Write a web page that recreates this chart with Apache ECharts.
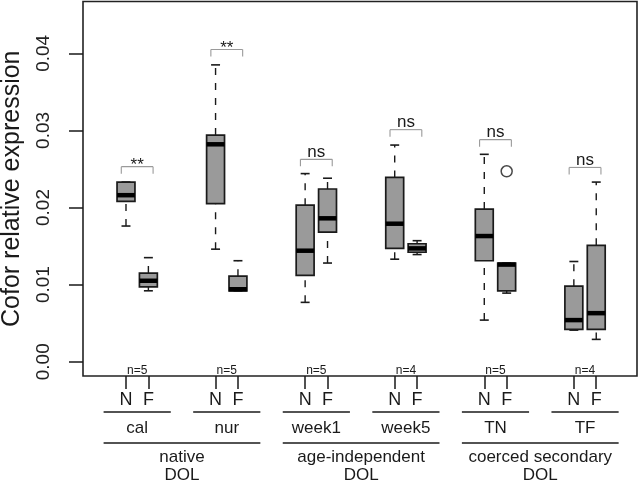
<!DOCTYPE html>
<html><head><meta charset="utf-8">
<script src="https://cdn.jsdelivr.net/npm/echarts@6/dist/echarts.min.js"></script>
<style>html,body{margin:0;padding:0;background:#fff}#c{width:639px;height:483px}</style>
</head><body><div id="c"></div>
<script>
// ---- data ----
const groups = ['cal', 'nur', 'week1', 'week5', 'TN', 'TF'];
const subLabels = ['N', 'F'];
const nLabels = ['n=5', 'n=5', 'n=5', 'n=4', 'n=5', 'n=4'];
const superGroups = ['native\nDOL', 'age-independent\nDOL', 'coerced secondary\nDOL'];
const superMembers = [[0, 1], [2, 3], [4, 5]];
// [min, q1, median, q3, max]
const statsN = [
  [0.0176, 0.0208, 0.0216, 0.0233, 0.0233],
  [0.0146, 0.0205, 0.0282, 0.0294, 0.0385],
  [0.0077, 0.0112, 0.0144, 0.0203, 0.0244],
  [0.0133, 0.0147, 0.0179, 0.0239, 0.0281],
  [0.0054, 0.0131, 0.0163, 0.0198, 0.0269],
  [0.0041, 0.0042, 0.0054, 0.0098, 0.0130]
];
const statsF = [
  [0.0092, 0.0097, 0.0105, 0.0115, 0.0135],
  [0.0092, 0.0092, 0.0094, 0.0111, 0.0131],
  [0.0128, 0.0168, 0.0186, 0.0224, 0.0238],
  [0.0139, 0.0142, 0.0147, 0.0153, 0.0157],
  [0.0089, 0.0092, 0.0126, 0.0128, 0.0128],
  [0.0029, 0.0042, 0.0063, 0.0151, 0.0233]
];
const outlierGroup = [4];
const outlierSub = [1];
const outlierValue = [0.0247];
const sigLabels = ['**', '**', 'ns', 'ns', 'ns', 'ns'];
const sigHeights = [0.0253, 0.0405, 0.02625, 0.0301, 0.0288, 0.0252];
const yTicks = [0, 0.01, 0.02, 0.03, 0.04];
const yTitle = 'Cofor relative expression';

// ---- layout ----
const X_MIN = -0.92, X_MAX = 23.82, Y_MIN = -0.00185, Y_MAX = 0.04672;
const FONT = '"Liberation Sans", Arial, Helvetica, sans-serif';
const INK = '#1a1a1a';
const posN = groups.map((g, i) => 1 + 4 * i);
const posF = groups.map((g, i) => 2 + 4 * i);
const tickPos = [], tickText = {};
groups.forEach((g, i) => { tickPos.push(posN[i], posF[i]); tickText[posN[i]] = subLabels[0]; tickText[posF[i]] = subLabels[1]; });

const boxData = [];
groups.forEach((g, i) => {
  boxData.push([posN[i]].concat(statsN[i]));
  boxData.push([posF[i]].concat(statsF[i]));
});
const outData = outlierGroup.map((g, k) => [(outlierSub[k] ? posF[g] : posN[g]), outlierValue[k]]);

function renderBox(params, api) {
  const p = api.value(0);
  const lo = api.coord([p, api.value(1)]);
  const q1 = api.coord([p, api.value(2)]);
  const md = api.coord([p, api.value(3)]);
  const q3 = api.coord([p, api.value(4)]);
  const hi = api.coord([p, api.value(5)]);
  const w = api.size([0.8, 0])[0];
  const sw = w * 0.5;
  const x = lo[0];
  const dash = { stroke: INK, lineWidth: 1.4, lineDash: [7, 8] };
  const solid = { stroke: INK, lineWidth: 1.6 };
  return {
    type: 'group', children: [
      { type: 'line', shape: { x1: x, y1: lo[1], x2: x, y2: q1[1] }, style: dash },
      { type: 'line', shape: { x1: x, y1: q3[1], x2: x, y2: hi[1] }, style: dash },
      { type: 'line', shape: { x1: x - sw / 2, y1: lo[1], x2: x + sw / 2, y2: lo[1] }, style: solid },
      { type: 'line', shape: { x1: x - sw / 2, y1: hi[1], x2: x + sw / 2, y2: hi[1] }, style: solid },
      { type: 'rect', shape: { x: x - w / 2, y: q3[1], width: w, height: q1[1] - q3[1] }, style: { fill: '#9a9a9a', stroke: INK, lineWidth: 1.7 } },
      { type: 'line', shape: { x1: x - w / 2, y1: md[1], x2: x + w / 2, y2: md[1] }, style: { stroke: '#000', lineWidth: 4.5 } }
    ]
  };
}

function renderSig(params, api) {
  const i = params.dataIndex;
  const a = api.coord([api.value(0) - 0.21, api.value(2)]);
  const b = api.coord([api.value(1) + 0.21, api.value(2)]);
  const y = a[1];
  const st = { stroke: '#9a9a9a', lineWidth: 1.1 };
  const lab = sigLabels[i];
  const dy = lab === '**' ? 7.5 : 1;
  return {
    type: 'group', children: [
      { type: 'line', shape: { x1: a[0], y1: y, x2: b[0], y2: y }, style: st },
      { type: 'line', shape: { x1: a[0], y1: y, x2: a[0], y2: y + 7 }, style: st },
      { type: 'line', shape: { x1: b[0], y1: y, x2: b[0], y2: y + 7 }, style: st },
      { type: 'text', x: (a[0] + b[0]) / 2, y: y + dy, style: { text: lab, fill: INK, font: '17px ' + FONT, align: 'center', verticalAlign: 'bottom' } }
    ]
  };
}

function renderGroupLabels(params, api) {
  const i = params.dataIndex;
  const a = api.coord([api.value(0), Y_MIN]);
  const b = api.coord([api.value(1), Y_MIN]);
  const l = api.coord([api.value(0) - 1, Y_MIN]);
  const r = api.coord([api.value(1) + 1, Y_MIN]);
  const base = a[1];
  const cx = (a[0] + b[0]) / 2;
  return {
    type: 'group', children: [
      { type: 'text', x: cx, y: base + 0.5, style: { text: nLabels[i], fill: INK, font: '12px ' + FONT, align: 'center', verticalAlign: 'bottom' } },
      { type: 'line', shape: { x1: l[0], y1: base + 36, x2: r[0], y2: base + 36 }, style: { stroke: INK, lineWidth: 1.5 } },
      { type: 'text', x: cx, y: base + 52, style: { text: groups[i], fill: INK, font: '17px ' + FONT, align: 'center', verticalAlign: 'middle' } }
    ]
  };
}

function renderSuper(params, api) {
  const i = params.dataIndex;
  const l = api.coord([api.value(0) - 1, Y_MIN]);
  const r = api.coord([api.value(1) + 1, Y_MIN]);
  const base = l[1];
  const cx = (l[0] + r[0]) / 2;
  const lines = superGroups[i].split('\n');
  const kids = [{ type: 'line', shape: { x1: l[0], y1: base + 67, x2: r[0], y2: base + 67 }, style: { stroke: INK, lineWidth: 1.5 } }];
  lines.forEach((t, k) => kids.push({ type: 'text', x: cx, y: base + 81 + 18.5 * k, style: { text: t, fill: INK, font: '17px ' + FONT, align: 'center', verticalAlign: 'middle' } }));
  return { type: 'group', children: kids };
}

const chart = echarts.init(document.getElementById('c'), null, { renderer: 'canvas' });
chart.setOption({
  animation: false,
  backgroundColor: '#fff',
  textStyle: { fontFamily: FONT },
  grid: { left: 83, right: 2, top: 1.5, bottom: 107, containLabel: false, outerBoundsMode: 'none', show: true, borderColor: '#222', borderWidth: 1.6, backgroundColor: 'transparent' },
  xAxis: {
    type: 'value', min: X_MIN, max: X_MAX,
    splitLine: { show: false }, axisLine: { show: false, onZero: false },
    axisTick: { show: true, inside: false, length: 13, customValues: tickPos, lineStyle: { color: INK, width: 1.5 } },
    axisLabel: { customValues: tickPos, formatter: v => tickText[Math.round(v)] || '', margin: 15, fontSize: 18, color: INK, fontFamily: FONT }
  },
  yAxis: {
    type: 'value', min: Y_MIN, max: Y_MAX,
    name: yTitle, nameLocation: 'middle', nameGap: 58,
    nameTextStyle: { fontSize: 25, color: INK, fontFamily: FONT },
    splitLine: { show: false }, axisLine: { show: false, onZero: false },
    axisTick: { show: true, inside: false, length: 14, customValues: yTicks, lineStyle: { color: INK, width: 1.5 } },
    axisLabel: { customValues: yTicks, rotate: 90, formatter: v => v.toFixed(2), margin: 30, fontSize: 19, color: '#222', fontFamily: FONT }
  },
  series: [
    { type: 'custom', name: 'boxes', renderItem: renderBox, data: boxData, encode: { x: 0, y: [1, 2, 3, 4, 5] }, z: 3 },
    { type: 'scatter', name: 'outliers', data: outData, symbol: 'circle', symbolSize: 11, itemStyle: { color: 'transparent', borderColor: INK, borderWidth: 1.5 }, z: 4 },
    { type: 'custom', name: 'sig', renderItem: renderSig, data: groups.map((g, i) => [posN[i], posF[i], sigHeights[i]]), encode: { x: [0, 1], y: 2 }, z: 4 },
    { type: 'custom', name: 'groupLabels', renderItem: renderGroupLabels, clip: false, data: groups.map((g, i) => [posN[i], posF[i]]), encode: { x: [0, 1] }, z: 5 },
    { type: 'custom', name: 'superLabels', renderItem: renderSuper, clip: false, data: superMembers.map(m => [posN[m[0]], posF[m[1]]]), encode: { x: [0, 1] }, z: 5 }
  ]
});
</script></body></html>
